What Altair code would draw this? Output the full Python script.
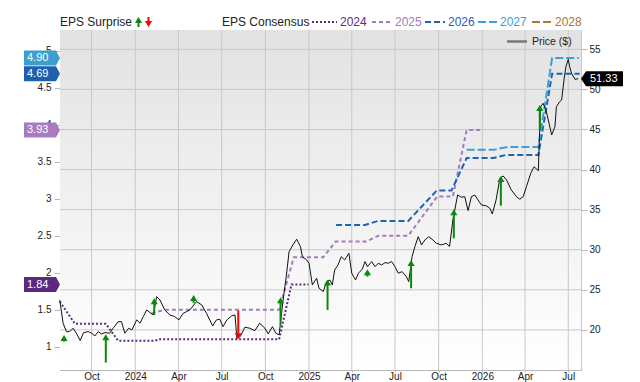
import altair as alt
import pandas as pd

# ---------------- data ----------------
price_dates = [
    "2023-07-26", "2023-08-02", "2023-08-09", "2023-08-16", "2023-08-23", "2023-08-30",
    "2023-09-07", "2023-09-14", "2023-09-24", "2023-10-01", "2023-10-08", "2023-10-15",
    "2023-10-22", "2023-10-29", "2023-11-08", "2023-11-17", "2023-11-26", "2023-12-03",
    "2023-12-10", "2023-12-18", "2023-12-25", "2024-01-04", "2024-01-11", "2024-01-18",
    "2024-01-25", "2024-02-01", "2024-02-08", "2024-02-15", "2024-02-22", "2024-03-03",
    "2024-03-14", "2024-03-24", "2024-04-02", "2024-04-11", "2024-04-18", "2024-04-25",
    "2024-05-09", "2024-05-20", "2024-05-30", "2024-06-12", "2024-06-20", "2024-06-27",
    "2024-07-04", "2024-07-12", "2024-07-22", "2024-07-29", "2024-08-02", "2024-08-09",
    "2024-08-19", "2024-08-29", "2024-09-09", "2024-09-19", "2024-09-30", "2024-10-07",
    "2024-10-16", "2024-10-23", "2024-10-30", "2024-11-07", "2024-11-14", "2024-11-20",
    "2024-11-28", "2024-12-06", "2024-12-14", "2024-12-18", "2024-12-27", "2025-01-01",
    "2025-01-08", "2025-01-17", "2025-01-22", "2025-01-31", "2025-02-07", "2025-02-14",
    "2025-02-19", "2025-02-24", "2025-03-03", "2025-03-10", "2025-03-17", "2025-03-26",
    "2025-04-01", "2025-04-09", "2025-04-15", "2025-04-23", "2025-04-29", "2025-05-04",
    "2025-05-13", "2025-05-20", "2025-05-27", "2025-06-03", "2025-06-10", "2025-06-17",
    "2025-06-24", "2025-07-01", "2025-07-08", "2025-07-16", "2025-07-25", "2025-07-30",
    "2025-08-06", "2025-08-12", "2025-08-19", "2025-08-26", "2025-09-02", "2025-09-10",
    "2025-09-19", "2025-09-26", "2025-10-07", "2025-10-17", "2025-10-24", "2025-10-31",
    "2025-11-10", "2025-11-18", "2025-11-25", "2025-12-02", "2025-12-09", "2025-12-16",
    "2025-12-23", "2025-12-30", "2026-01-10", "2026-01-17", "2026-01-22", "2026-01-30",
    "2026-02-07", "2026-02-14", "2026-02-21", "2026-03-03", "2026-03-14", "2026-03-21",
    "2026-03-28", "2026-04-04", "2026-04-13", "2026-04-20", "2026-04-29", "2026-05-01",
    "2026-05-04", "2026-05-09", "2026-05-15", "2026-05-20", "2026-05-27", "2026-06-03",
    "2026-06-06", "2026-06-13", "2026-06-17", "2026-06-22", "2026-06-26", "2026-07-01",
    "2026-07-04", "2026-07-08", "2026-07-15", "2026-07-22",
]
price_values = [
    23.74, 20.84, 19.79, 19.79, 20.21, 19.59,
    18.67, 19.66, 19.79, 19.59, 19.25, 19.79,
    19.50, 19.66, 19.59, 20.34, 21.03, 21.03,
    19.59, 20.21, 20.00, 21.25, 20.84, 21.66,
    22.49, 22.16, 21.87, 24.15, 23.74, 22.49,
    21.87, 21.66, 21.25, 22.08, 22.28, 22.49,
    23.53, 23.12, 22.08, 20.50, 21.25, 21.33,
    20.41, 21.25, 21.75, 21.87, 18.97, 19.16,
    20.34, 20.21, 19.91, 20.84, 20.21, 19.50,
    20.41, 19.59, 19.38, 23.53, 26.65, 29.76,
    30.60, 31.31, 30.39, 29.14, 28.73, 28.32,
    25.61, 26.45, 25.20, 24.78, 26.02, 26.23,
    25.61, 27.48, 28.10, 29.14, 28.73, 29.56,
    27.07, 26.23, 27.07, 27.57, 28.52, 27.89,
    28.52, 27.89, 28.32, 28.10, 28.39, 28.32,
    28.52, 27.89, 27.07, 27.27, 26.65, 26.02,
    29.14, 30.39, 31.63, 30.60, 31.22, 31.63,
    31.22, 30.81, 30.60, 30.81, 30.39, 33.72,
    36.83, 36.55, 36.62, 34.88, 36.62, 36.83,
    36.21, 35.59, 35.46, 35.17, 34.46, 36.21,
    38.92, 39.20, 38.70, 37.46, 36.62, 36.30,
    36.62, 37.87, 39.54, 40.36, 39.86, 43.69,
    47.84, 48.27, 47.43, 46.18, 44.31, 45.35,
    47.84, 48.47, 48.68, 51.17, 52.83, 53.75,
    52.83, 52.00, 51.26, 51.33,
]

cons_2024_dates = ["2023-07-26", "2023-08-27", "2023-10-31", "2023-11-26", "2024-02-10",
                   "2024-02-22", "2024-10-30", "2024-11-25", "2024-12-31"]
cons_2024_eps = [1.61, 1.31, 1.31, 1.08, 1.08, 1.10, 1.10, 1.84, 1.84]

cons_2025_dates = ["2024-02-04", "2024-03-04", "2024-10-30", "2024-11-30", "2025-01-31",
                   "2025-02-26", "2025-05-01", "2025-05-27", "2025-07-29", "2025-09-28",
                   "2025-10-31", "2025-11-29", "2025-12-28"]
cons_2025_eps = [1.45, 1.50, 1.50, 2.21, 2.21, 2.42, 2.42, 2.50, 2.50, 3.03, 3.03, 3.93, 3.93]

cons_2026_dates = ["2025-02-27", "2025-04-29", "2025-05-27", "2025-07-29", "2025-09-27",
                   "2025-10-28", "2025-11-29", "2026-01-25", "2026-02-19", "2026-04-29",
                   "2026-05-28", "2026-07-25"]
cons_2026_eps = [2.645, 2.645, 2.70, 2.70, 3.11, 3.11, 3.55, 3.55, 3.59, 3.59, 4.69, 4.69]

cons_2027_dates = ["2025-11-29", "2026-01-24", "2026-02-23", "2026-04-29", "2026-05-28", "2026-07-23"]
cons_2027_eps = [3.66, 3.66, 3.70, 3.70, 4.90, 4.90]

series_names = ["2024", "2025", "2026", "2027", "2028"]
series_colors = ["#5b2c83", "#a47bbd", "#1f63b3", "#3da0d2", "#a8792e"]
series_dashes = [[2, 2], [4, 3], [6, 3], [8, 3], [8, 3]]

surprise_dates = ["2023-08-04", "2023-10-31", "2024-02-10", "2024-05-03", "2024-08-05",
                  "2024-11-02", "2025-02-09", "2025-05-04", "2025-08-04", "2025-11-02",
                  "2026-02-09", "2026-05-02"]
surprise_from = [18.54, 15.92, 21.87, 23.37, 22.41, 20.62, 22.49, 26.65, 25.20, 31.43, 35.50, 44.94]
surprise_to = [19.38, 19.46, 23.95, 24.36, 18.84, 24.08, 26.30, 27.57, 28.73, 35.05, 39.20, 48.05]
surprise_dir = ["up", "up", "up", "up", "down", "up", "up", "up", "up", "up", "up", "up"]

flag_labels = ["4.90", "4.69", "3.93", "1.84"]
flag_values = [4.90, 4.69, 3.93, 1.84]
flag_colors = ["#3d9fcf", "#1f60ae", "#a77bbd", "#5b2a7f"]

last_price = 51.33

eps_ticks = [1, 1.5, 2, 2.5, 3, 3.5, 4, 4.5, 5]
price_ticks = [20, 25, 30, 35, 40, 45, 50, 55]
tick_months = [(2023, 10), (2024, 1), (2024, 4), (2024, 7), (2024, 10), (2025, 1),
               (2025, 4), (2025, 7), (2025, 10), (2026, 1), (2026, 4), (2026, 7)]

# ---------------- layout ----------------
W, H = 521, 340
FONT = "Liberation Sans"
GREEN, RED = "#0a8a0a", "#ff0000"
GRID = "#c8c8c8"

df_price = pd.DataFrame({"date": price_dates, "price": price_values})

cons_rows = []
for name, ds, vs in [("2024", cons_2024_dates, cons_2024_eps),
                     ("2025", cons_2025_dates, cons_2025_eps),
                     ("2026", cons_2026_dates, cons_2026_eps),
                     ("2027", cons_2027_dates, cons_2027_eps)]:
    for d, v in zip(ds, vs):
        cons_rows.append({"series": name, "date": d, "eps": v})
df_cons = pd.DataFrame(cons_rows)

df_surp = pd.DataFrame({"date": surprise_dates, "p0": surprise_from, "p1": surprise_to,
                        "dir": surprise_dir})
df_flags = pd.DataFrame({"label": flag_labels, "v": flag_values, "c": flag_colors})
df_last = pd.DataFrame({"v": [last_price], "label": [f"{last_price:.2f}"]})
df_xticks = pd.DataFrame({"date": [f"{y}-{m:02d}-01" for y, m in tick_months]})
df_pticks = pd.DataFrame({"v": price_ticks})

x_scale = alt.Scale(type="utc", domain=[alt.DateTime(year=2023, month=7, date=26, hours=12, utc=True),
                                        alt.DateTime(year=2026, month=7, date=27, hours=20, utc=True)])
x_axis = alt.Axis(values=[alt.DateTime(year=y, month=m, date=1, utc=True) for y, m in tick_months],
                  labelExpr="utcmonth(datum.value) == 0 ? utcFormat(datum.value, '%Y') : utcFormat(datum.value, '%b')",
                  grid=False, domainColor="#b8b8b8", tickColor="#b8b8b8",
                  tickSize=2, labelPadding=-1, labelFontSize=10, labelColor="#222",
                  labelFlush=False, labelOverlap=False, title=None)

eps_scale = alt.Scale(domain=[0.685, 5.28], nice=False, zero=False)
eps_axis = alt.Axis(orient="left", values=eps_ticks, format="~g",
                    grid=False, tickSize=6, labelPadding=3, labelFontSize=10, labelColor="#222",
                    domainColor="#c0c0c0", tickColor="#b8b8b8", labelOverlap=False, title=None)

price_scale = alt.Scale(domain=[15.0, 57.41], nice=False, zero=False)
price_axis = alt.Axis(orient="right", values=price_ticks, grid=False,
                      tickSize=6, labelPadding=2, labelFontSize=10,
                      labelColor="#222", domain=False, tickColor="#b8b8b8",
                      labelOverlap=False, title=None)


def X():
    return alt.X("date:T", scale=x_scale, axis=x_axis)


def EY(f):
    return alt.Y(f, type="quantitative", scale=eps_scale, axis=eps_axis)


def PY(f, axis=True):
    return alt.Y(f, type="quantitative", scale=price_scale, axis=price_axis if axis else None)


one = pd.DataFrame({"k": [0]})

# ---------------- background group: gradient + grid ----------------
bg = alt.Chart(one).mark_rect(
    color=alt.LinearGradient(gradient="linear", x1=0, y1=0, x2=0, y2=1,
                             stops=[alt.GradientStop(offset=0, color="#e2e2e2"),
                                    alt.GradientStop(offset=1, color="#ffffff")])
).encode(x=alt.value(0), x2=alt.value(W), y=alt.value(0), y2=alt.value(H))

vgrid = alt.Chart(df_xticks).mark_rule(color=GRID, strokeWidth=1).encode(
    x=X(), y=alt.value(0), y2=alt.value(H))
hgrid = alt.Chart(df_pticks).mark_rule(color=GRID, strokeWidth=1).encode(
    y=PY("v", axis=False), x=alt.value(0), x2=alt.value(W))

bg_group = alt.layer(bg, vgrid, hgrid)

# ---------------- EPS (left axis) group ----------------
cons_lines = alt.Chart(df_cons).mark_line(strokeWidth=2).encode(
    x=X(), y=EY("eps"),
    color=alt.Color("series:N", scale=alt.Scale(domain=series_names, range=series_colors), legend=None),
    strokeDash=alt.StrokeDash("series:N", scale=alt.Scale(domain=series_names, range=series_dashes), legend=None),
    detail="series:N",
)

left_flag_path = "M-36,-7.5 L-4,-7.5 L0,0 L-4,7.5 L-36,7.5 Z"
eps_flags = alt.Chart(df_flags).mark_point(shape=left_flag_path, size=4, filled=True,
                                           opacity=1, strokeWidth=0).encode(
    x=alt.value(0), y=EY("v"), fill=alt.Fill("c:N", scale=None))
eps_flag_text = alt.Chart(df_flags).mark_text(align="left", baseline="middle", fontSize=11,
                                              color="white", font=FONT).encode(
    x=alt.value(-33), y=EY("v"), text="label:N")

eps_group = alt.layer(cons_lines, eps_flags, eps_flag_text)

# ---------------- Price (right axis) group ----------------
price_line = alt.Chart(df_price).mark_line(color="#111", strokeWidth=1).encode(x=X(), y=PY("price"))

up_head = "M0,0 L3.6,6 L-3.6,6 Z"
dn_head = "M0,0 L3.6,-6 L-3.6,-6 Z"

shaft_up = alt.Chart(df_surp).transform_filter("datum.dir == 'up'").mark_rule(
    strokeWidth=2, color=GREEN, y2Offset=4).encode(x=X(), y=PY("p0"), y2="p1:Q")
shaft_dn = alt.Chart(df_surp).transform_filter("datum.dir == 'down'").mark_rule(
    strokeWidth=2, color=RED, y2Offset=-4).encode(x=X(), y=PY("p0"), y2="p1:Q")
head_up = alt.Chart(df_surp).transform_filter("datum.dir == 'up'").mark_point(
    shape=up_head, size=4, filled=True, opacity=1, strokeWidth=0, fill=GREEN, color=GREEN).encode(
    x=X(), y=PY("p1"))
head_dn = alt.Chart(df_surp).transform_filter("datum.dir == 'down'").mark_point(
    shape=dn_head, size=4, filled=True, opacity=1, strokeWidth=0, fill=RED, color=RED).encode(
    x=X(), y=PY("p1"))

right_flag_path = "M0,0 L5,-7.5 L42,-7.5 L42,7.5 L5,7.5 Z"
price_flag = alt.Chart(df_last).mark_point(shape=right_flag_path, size=4, filled=True, opacity=1,
                                           strokeWidth=0, color="#000", fill="#000").encode(
    x=alt.value(W), y=PY("v"))
price_flag_text = alt.Chart(df_last).mark_text(align="left", baseline="middle", fontSize=11,
                                               color="white", font=FONT).encode(
    x=alt.value(W + 9), y=PY("v"), text="label:N")

# ---------------- legend (decorations) ----------------
legend_layers = []


def label(text, x, y, size=12, color="#222"):
    return alt.Chart(pd.DataFrame({"t": [text]})).mark_text(
        align="left", baseline="middle", fontSize=size, color=color, font=FONT).encode(
        x=alt.value(x), y=alt.value(y), text="t:N")


legend_layers.append(label("EPS Surprise", 0, -8))
legend_layers.append(label("EPS Consensus", 162, -8))

legend_layers.append(alt.Chart(one).mark_rule(strokeWidth=2, color=GREEN).encode(
    x=alt.value(78.5), y=alt.value(-9), y2=alt.value(-3)))
legend_layers.append(alt.Chart(one).mark_point(shape=up_head, size=4, filled=True, opacity=1,
                                               strokeWidth=0, color=GREEN, fill=GREEN).encode(
    x=alt.value(78.5), y=alt.value(-13)))
legend_layers.append(alt.Chart(one).mark_rule(strokeWidth=2, color=RED).encode(
    x=alt.value(88.5), y=alt.value(-13), y2=alt.value(-7)))
legend_layers.append(alt.Chart(one).mark_point(shape=dn_head, size=4, filled=True, opacity=1,
                                               strokeWidth=0, color=RED, fill=RED).encode(
    x=alt.value(88.5), y=alt.value(-3)))

seg_x = [252, 312, 365, 418, 472]
seg_len = [25, 20, 20, 19, 20]
for name, col, dash, sx, sl in zip(series_names, series_colors, series_dashes, seg_x, seg_len):
    legend_layers.append(alt.Chart(one).mark_rule(strokeWidth=2, color=col, strokeDash=dash).encode(
        x=alt.value(sx), x2=alt.value(sx + sl), y=alt.value(-8)))
    legend_layers.append(label(name, sx + sl + 3, -8, color=col))

legend_layers.append(alt.Chart(one).mark_rule(strokeWidth=2.5, color="#777").encode(
    x=alt.value(447), x2=alt.value(467), y=alt.value(11.5)))
legend_layers.append(label("Price ($)", 472, 12, size=10.5))

price_group = alt.layer(price_line, shaft_up, shaft_dn, head_up, head_dn, price_flag,
                        price_flag_text, *legend_layers)

chart = alt.layer(bg_group, eps_group, price_group).resolve_scale(
    y="independent", color="independent", fill="independent", strokeDash="independent"
).properties(
    width=W, height=H, autosize="none",
    padding={"left": 60, "top": 30, "right": 640 - 60 - W, "bottom": 382 - 30 - H},
    background="white",
).configure(font=FONT).configure_view(stroke=GRID)

chart.save("out.html", embed_options={"renderer": "svg", "actions": False})
